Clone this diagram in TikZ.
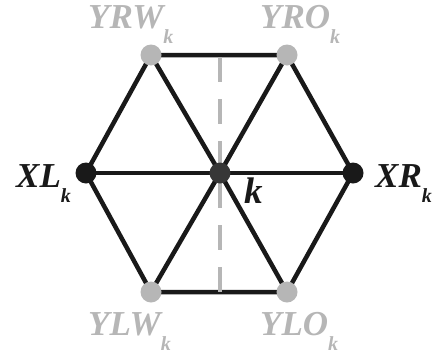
\documentclass[tikz,border=0pt]{standalone}
\usepackage{fontspec}
\setmainfont{Liberation Serif}
\usetikzlibrary{positioning,backgrounds}

\definecolor{lgray}{RGB}{182,182,182}
\definecolor{dgray}{RGB}{55,55,55}
\definecolor{ink}{RGB}{25,25,25}

% label with a lowered k
\newcommand{\subk}[1]{#1\raisebox{-15pt}{\fontsize{20}{20}\selectfont k}}

\begin{document}
\begin{tikzpicture}[x=1pt, y=-1pt,
  vtx/.style={circle, inner sep=0pt, minimum size=21pt},
  edge/.style={draw=ink, line width=4.5pt},
  lbl/.style={font=\fontsize{35}{35}\selectfont\bfseries\itshape, inner sep=0pt, anchor=base west}]

\useasboundingbox (0,0) rectangle (438,356);

% vertices
\node[vtx, fill=lgray] (YRW) at (151,55)  {};
\node[vtx, fill=lgray] (YRO) at (287,55)  {};
\node[vtx, fill=ink]   (XL)  at (86,173)  {};
\node[vtx, fill=dgray] (k)   at (220,173) {};
\node[vtx, fill=ink]   (XR)  at (353,173) {};
\node[vtx, fill=lgray] (YLW) at (151,292) {};
\node[vtx, fill=lgray] (YLO) at (287,292) {};

\coordinate (dtop) at (220,57);
\coordinate (dbot) at (220,292);

\begin{scope}[on background layer]
\draw[edge] (YRW.center) -- (YRO.center) -- (XR.center) -- (YLO.center)
  -- (YLW.center) -- (XL.center) -- cycle;
\foreach \v in {YRW,YRO,XR,YLO,YLW,XL}
  \draw[edge] (k.center) -- (\v.center);
\draw[lgray, line width=3.5pt, dash pattern=on 25pt off 17pt] (dtop) -- (dbot);
\end{scope}

% labels
\node[lbl, text=lgray] (tYRW) at (88,28)   {\subk{YRW}};
\node[lbl, text=lgray] (tYRO) at (260,28)  {\subk{YRO}};
\node[lbl, text=ink]   (tXL)  at (16,187)  {\subk{XL}};
\node[lbl, text=ink]   (tXR)  at (375,187) {\subk{XR}};
\node[lbl, text=lgray] (tYLW) at (88,335)  {\subk{YLW}};
\node[lbl, text=lgray] (tYLO) at (260,335) {\subk{YLO}};
\node[lbl, text=ink, font=\fontsize{37}{37}\selectfont\bfseries\itshape] (tk) at (244,203) {k};

\end{tikzpicture}
\end{document}
